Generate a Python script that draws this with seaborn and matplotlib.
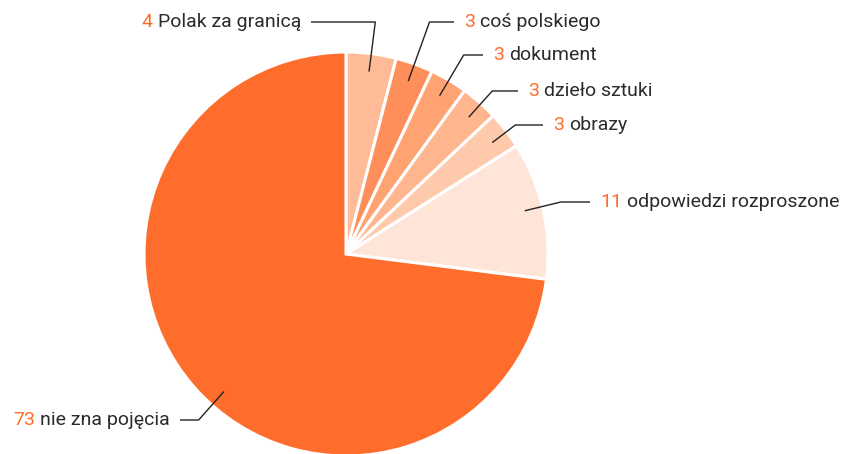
import numpy as np
import matplotlib
matplotlib.use("Agg")
import matplotlib.pyplot as plt
import seaborn as sns

# survey answers, clockwise from 12 o'clock
values = [4, 3, 3, 3, 3, 11, 73]
labels = ["Polak za granicą", "coś polskiego", "dokument", "dzieło sztuki",
          "obrazy", "odpowiedzi rozproszone", "nie zna pojęcia"]
colors = ["#ffbb98", "#ff8f5a", "#ffa373", "#ffb68f", "#ffcaab", "#ffe5d8", "#ff6d2d"]

sns.set_theme(style="white")
plt.rcParams["font.family"] = ["Roboto", "DejaVu Sans"]

W, H = 842, 454
fig = plt.figure(figsize=(W / 100, H / 100), dpi=100)
ax = fig.add_axes([0, 0, 1, 1])

cx, cy, R = 346, H - 254, 202
wedges, _ = ax.pie(values, colors=colors, startangle=90, counterclock=False,
                   center=(cx, cy), radius=R, frame=True,
                   wedgeprops=dict(edgecolor="white", linewidth=2.2))
ax.set_xlim(0, W)
ax.set_ylim(0, H)
ax.set_aspect("equal")
ax.axis("off")

# label layout: text anchor (pixels from top-left), side, small angle tweak
text_xy = [(301, 22), (464, 22), (493, 55), (528, 91), (553, 125), (600, 202), (170, 420)]
sides = ["right", "left", "left", "left", "left", "left", "right"]
angle_tweak = [0, 0, 0, -0.5, -0.5, 1, 7]

num_color = "#ff6d2d"
txt_color = "#2b2b2b"
fs = 14
gap = 10

for w, val, lab, (tx, ty), side, tw in zip(wedges, values, labels, text_xy, sides, angle_tweak):
    ang = np.deg2rad((w.theta1 + w.theta2) / 2 + tw)
    px = cx + 0.91 * R * np.cos(ang)
    py = cy + 0.91 * R * np.sin(ang)
    ly = H - ty
    # elbow: where the radial direction reaches the label's height
    ex = px + (ly - py) / np.tan(ang)
    end_x = tx - gap if side == "left" else tx + gap
    ax.plot([px, ex, end_x], [py, ly, ly], color="#222222", lw=1.0,
            solid_capstyle="butt")
    if side == "left":
        t = ax.text(tx, ly, str(val), ha="left", va="center",
                    fontsize=fs, color=num_color)
        ax.annotate(lab, xy=(1, 0.5), xycoords=t, xytext=(3.5, 0), textcoords="offset points",
                    ha="left", va="center", fontsize=fs, color=txt_color)
    else:
        t = ax.text(tx, ly, lab, ha="right", va="center",
                    fontsize=fs, color=txt_color)
        ax.annotate(str(val), xy=(0, 0.5), xycoords=t, xytext=(-3.5, 0), textcoords="offset points",
                    ha="right", va="center", fontsize=fs, color=num_color)

fig.savefig("out.png", dpi=100, facecolor="white")
